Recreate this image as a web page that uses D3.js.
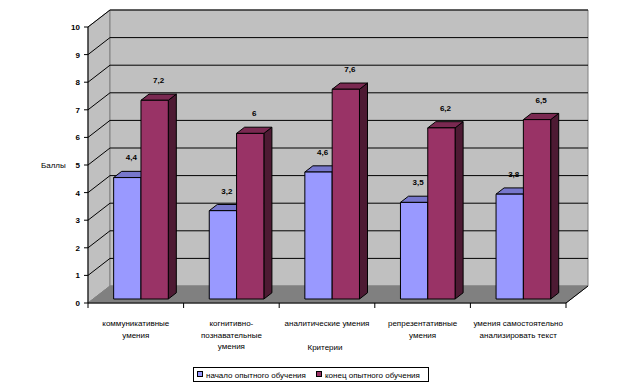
<!DOCTYPE html>
<html>
<head>
<meta charset="utf-8">
<script src="https://cdn.jsdelivr.net/npm/d3@7"></script>
<style>
  body { margin: 0; background: #fff; }
  text { font-family: "Liberation Sans", Arial, sans-serif; font-size: 8px; fill: #000; }
</style>
</head>
<body>
<div id="chart"></div>
<script>
var categories = ["коммуникативные\nумения", "когнитивно-\nпознавательные\nумения", "аналитические умения", "репрезентативные\nумения", "умения самостоятельно\nанализировать текст"],
series = ["начало опытного обучения", "конец опытного обучения"],
startValues = [4.4, 3.2, 4.6, 3.5, 3.8],
endValues = [7.2, 6, 7.6, 6.2, 6.5],
yTicks = [0, 1, 2, 3, 4, 5, 6, 7, 8, 9, 10]

var width = 623, height = 389,
plotLeft = 88, plotRight = 566, plotBottom = 303, plotTop = 27,
depthX = 22, depthY = -17,
barT0 = 0.235, barT1 = 0.6

var faceColors = [
  {front: "#9999ff", top: "#7777cc", side: "#5b5b99"},
  {front: "#993366", top: "#7a2951", side: "#4d1a33"}
]

var svg = d3.select("#chart").append("svg")
  .attr("width", width)
  .attr("height", height)

var x = d3.scaleBand().domain(d3.range(categories.length)).range([plotLeft, plotRight])
var xSub = d3.scaleBand().domain(d3.range(series.length)).range([0, x.bandwidth()]).paddingOuter(0.75)
var y = d3.scaleLinear().domain([0, 10]).range([plotBottom, plotTop])

// project a point on the front plane back by depth t (0..1)
function p(px, v, t) { return [px + depthX * t, y(v) + depthY * t] }
function poly(pts) { return pts.map(function(d) { return d.join(",") }).join(" ") }

// walls
svg.append("polygon")
  .attr("points", poly([p(plotLeft, 0, 0), p(plotLeft, 10, 0), p(plotLeft, 10, 1), p(plotLeft, 0, 1)]))
  .attr("fill", "#c0c0c0").attr("stroke", "#808080")
svg.append("polygon")
  .attr("points", poly([p(plotLeft, 0, 1), p(plotLeft, 10, 1), p(plotRight, 10, 1), p(plotRight, 0, 1)]))
  .attr("fill", "#c0c0c0").attr("stroke", "#808080")
svg.append("polygon")
  .attr("points", poly([p(plotLeft, 0, 0), p(plotRight, 0, 0), p(plotRight, 0, 1), p(plotLeft, 0, 1)]))
  .attr("fill", "#808080").attr("stroke", "#808080")
svg.append("line")
  .attr("x1", p(plotRight, 0, 0)[0]).attr("y1", p(plotRight, 0, 0)[1])
  .attr("x2", p(plotRight, 0, 1)[0]).attr("y2", p(plotRight, 0, 1)[1])
  .attr("stroke", "#000")

// gridlines on side and back walls
var grid = svg.append("g").attr("stroke", "#000").attr("stroke-width", 1)
grid.selectAll(".side").data(yTicks.slice(1)).enter().append("polyline")
  .attr("fill", "none")
  .attr("points", function(d) { return poly([p(plotLeft, d, 0), p(plotLeft, d, 1), p(plotRight, d, 1)]) })

// bars
var bars = svg.append("g")
categories.forEach(function(c, i) {
  [startValues[i], endValues[i]].forEach(function(v, s) {
    var x0 = x(i) + xSub(s), x1 = x0 + xSub.bandwidth(), col = faceColors[s]
    var g = bars.append("g").attr("stroke", "#000").attr("stroke-width", 1).attr("stroke-linejoin", "round")
    g.append("polygon").attr("fill", col.side)
      .attr("points", poly([p(x1, 0, barT0), p(x1, v, barT0), p(x1, v, barT1), p(x1, 0, barT1)]))
    g.append("polygon").attr("fill", col.top)
      .attr("points", poly([p(x0, v, barT0), p(x1, v, barT0), p(x1, v, barT1), p(x0, v, barT1)]))
    g.append("polygon").attr("fill", col.front)
      .attr("points", poly([p(x0, 0, barT0), p(x1, 0, barT0), p(x1, v, barT0), p(x0, v, barT0)]))
    var cap = p((x0 + x1) / 2, v, (barT0 + barT1) / 2)
    bars.append("text")
      .attr("x", cap[0]).attr("y", cap[1] - 14)
      .attr("text-anchor", "middle").attr("font-weight", "bold")
      .text(String(v).replace(".", ","))
  })
})

// y axis
var yAxis = svg.append("g")
yAxis.append("line").attr("x1", plotLeft).attr("x2", plotLeft).attr("y1", y(0)).attr("y2", y(10)).attr("stroke", "#000")
yAxis.selectAll(".tick").data(yTicks).enter().append("line")
  .attr("x1", plotLeft - 4).attr("x2", plotLeft).attr("y1", function(d) { return y(d) }).attr("y2", function(d) { return y(d) })
  .attr("stroke", "#000")
yAxis.selectAll(".lbl").data(yTicks).enter().append("text")
  .attr("x", plotLeft - 8).attr("y", function(d) { return y(d) + 3 })
  .attr("text-anchor", "end").attr("font-weight", "bold")
  .text(function(d) { return d })

// x axis
var xAxis = svg.append("g")
xAxis.append("line").attr("x1", plotLeft).attr("x2", plotRight).attr("y1", plotBottom).attr("y2", plotBottom).attr("stroke", "#000")
xAxis.selectAll(".tick").data(d3.range(categories.length + 1)).enter().append("line")
  .attr("x1", function(d) { return plotLeft + d * x.step() }).attr("x2", function(d) { return plotLeft + d * x.step() })
  .attr("y1", plotBottom).attr("y2", plotBottom + 5).attr("stroke", "#000")
categories.forEach(function(c, i) {
  var t = xAxis.append("text")
    .attr("x", x(i) + x.bandwidth() / 2).attr("y", plotBottom + 23)
    .attr("text-anchor", "middle")
  c.split("\n").forEach(function(line, k) {
    t.append("tspan").attr("x", x(i) + x.bandwidth() / 2).attr("dy", k ? 11.5 : 0).text(line)
  })
})

svg.append("text").attr("x", 325).attr("y", 350).attr("text-anchor", "middle").text("Критерии")
svg.append("text").attr("x", 41).attr("y", 168).text("Баллы")

// legend
var legend = svg.append("g")
legend.append("rect").attr("x", 193.5).attr("y", 367.5).attr("width", 235).attr("height", 14)
  .attr("fill", "#fff").attr("stroke", "#000")
var legendX = [197, 316]
series.forEach(function(s, i) {
  legend.append("rect").attr("x", legendX[i] + 0.5).attr("y", 371.5).attr("width", 5).attr("height", 5)
    .attr("fill", faceColors[i].front).attr("stroke", "#000")
  legend.append("text").attr("x", legendX[i] + 9).attr("y", 377.5).text(s)
})
</script>
</body>
</html>
